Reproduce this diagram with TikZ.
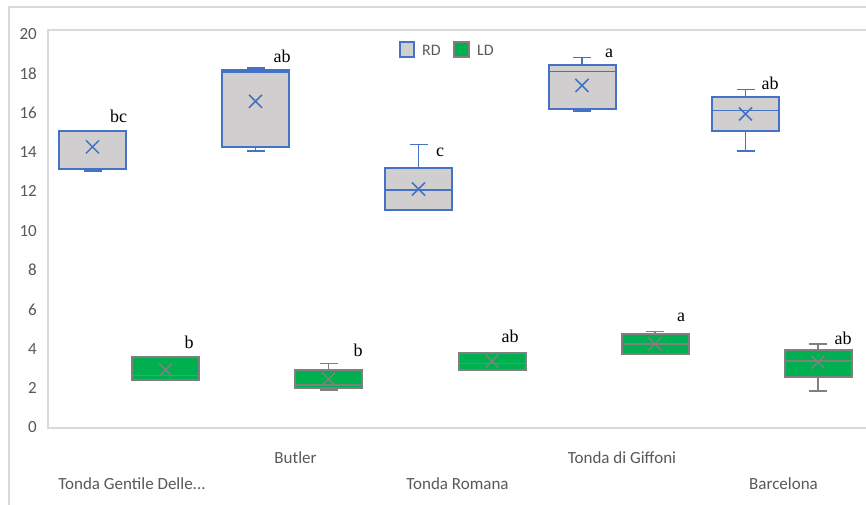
\documentclass[tikz,border=0pt]{standalone}
\usepackage{fontspec}
\setmainfont{Carlito}
\newfontfamily\sigfont{Liberation Serif}
\definecolor{rdline}{RGB}{68,114,196}
\definecolor{rdfill}{RGB}{208,206,206}
\definecolor{ldfill}{RGB}{0,176,80}
\definecolor{ldline}{RGB}{128,128,128}
\definecolor{axtext}{RGB}{89,89,89}
\definecolor{framec}{RGB}{217,217,217}
\newcommand{\bplot}[8]{%
  \draw[#8whisk] (#1,{yv(#2)}) -- (#1,{yv(#3)});
  \draw[#8whisk] (#1,{yv(#5)}) -- (#1,{yv(#6)});
  \draw[#8whisk] ({#1-9},{yv(#2)}) -- ({#1+9},{yv(#2)});
  \draw[#8whisk] ({#1-9},{yv(#6)}) -- ({#1+9},{yv(#6)});
  \draw[#8box] ({#1-33.5},{yv(#3)}) rectangle ({#1+33.5},{yv(#5)});
  \draw[#8whisk] ({#1-33.5},{yv(#4)}) -- ({#1+33.5},{yv(#4)});
  \draw[#8whisk] ({#1-6.5},{yv(#7)-6.5}) -- ({#1+6.5},{yv(#7)+6.5})
                 ({#1-6.5},{yv(#7)+6.5}) -- ({#1+6.5},{yv(#7)-6.5});
}
\begin{document}
\begin{tikzpicture}[x=1pt,y=-1pt,
  declare function={yv(\v)=428-19.8*\v;},
  rdwhisk/.style={draw=rdline,line width=1.5pt},
  rdbox/.style={draw=rdline,fill=rdfill,line width=2pt},
  ldwhisk/.style={draw=ldline,line width=1.5pt},
  ldbox/.style={draw=ldline,fill=ldfill,line width=2pt},
  ticklab/.style={anchor=east,inner sep=0pt,text=axtext,font=\fontsize{17}{20}\selectfont},
  catlab/.style={anchor=base,inner sep=0pt,text=axtext,font=\fontsize{17}{20}\selectfont},
  leglab/.style={anchor=base west,inner sep=0pt,text=axtext,font=\fontsize{16}{19}\selectfont},
  sig/.style={anchor=base,inner sep=0pt,text=black,font=\sigfont\fontsize{18}{21}\selectfont},
  frameline/.style={draw=framec,line width=1.5pt},
  plotframe/.style={draw=framec,line width=2.5pt}
]
\useasboundingbox (0,0) rectangle (866,505);
\fill[white] (0,0) rectangle (866,505);
% outer chart frame
\draw[frameline] (9,505) -- (9,7) -- (866,7);
% plot area frame
\draw[plotframe] (866,30) -- (48,30) -- (48,428) -- (866,428);
% y tick labels
\foreach \v in {0,2,...,20} \node[ticklab] (t\v) at (37,{427.5-19.67*\v}) {\v};
% legend
\draw[rdbox,line width=1.5pt] (400,42) rectangle (414,57);
\node[leglab] (lrd) at (422,56) {RD};
\draw[ldbox,line width=1.5pt] (454,42) rectangle (469,57);
\node[leglab] (lld) at (477,56) {LD};
% RD boxes: center, min, q1, median, q3, max, mean
\bplot{92.5}{12.98}{13.08}{13.08}{15.0}{15.0}{14.2}{rd}
\bplot{255.5}{14.0}{14.2}{17.98}{18.08}{18.17}{16.5}{rd}
\bplot{418.5}{11.0}{11.0}{12.02}{13.15}{14.33}{12.07}{rd}
\bplot{582}{16.0}{16.1}{18.0}{18.33}{18.7}{17.3}{rd}
\bplot{745.5}{14.0}{15.0}{16.04}{16.7}{17.1}{15.86}{rd}
% LD boxes
\bplot{165.5}{2.42}{2.42}{2.64}{3.57}{3.57}{2.93}{ld}
\bplot{328.5}{1.92}{2.0}{2.16}{2.95}{3.27}{2.47}{ld}
\bplot{492}{2.95}{2.95}{3.27}{3.8}{3.8}{3.38}{ld}
\bplot{655}{3.75}{3.75}{4.24}{4.76}{4.88}{4.24}{ld}
\bplot{818}{1.88}{2.59}{3.38}{3.92}{4.24}{3.33}{ld}
% significance letters
\node[sig] (s1) at (118.5,123) {bc};
\node[sig] (s2) at (282,63) {ab};
\node[sig] (s3) at (440,156.5) {c};
\node[sig] (s4) at (609,58) {a};
\node[sig] (s5) at (770,90) {ab};
\node[sig] (s6) at (189,348) {b};
\node[sig] (s7) at (358,356.5) {b};
\node[sig] (s8) at (510,342.5) {ab};
\node[sig] (s9) at (681,321.5) {a};
\node[sig] (s10) at (843,344) {ab};
% category labels
\node[catlab] (c1) at (132,489.5) {Tonda Gentile Delle...};
\node[catlab] (c2) at (295.5,463) {Butler};
\node[catlab] (c3) at (457.5,489.5) {Tonda Romana};
\node[catlab] (c4) at (622,463) {Tonda di Giffoni};
\node[catlab] (c5) at (783.5,489) {Barcelona};
\end{tikzpicture}
\end{document}
